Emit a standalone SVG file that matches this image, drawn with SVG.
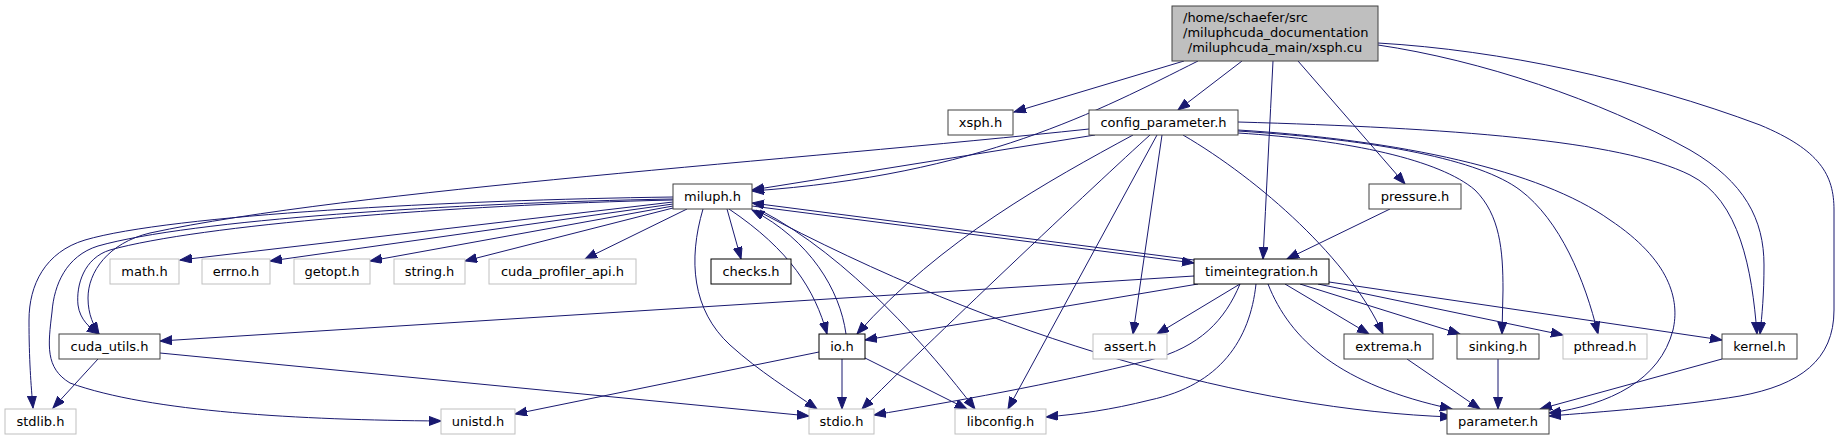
<svg xmlns="http://www.w3.org/2000/svg" width="1840" height="440" viewBox="0 0 1840 440">
<style>
.n rect{fill:#fff;stroke:#404040;stroke-width:1}
.k rect{stroke:#000}
.g rect{stroke:#bfbfbf}
.r rect{fill:#bfbfbf;stroke:#404040}
text{font-family:"DejaVu Sans","Liberation Sans",sans-serif;font-size:13px;fill:#000;text-anchor:middle}
#edges path{fill:none;stroke:#191970;stroke-width:1;marker-end:url(#ah)}
</style>
<defs>
<marker id="ah" markerUnits="userSpaceOnUse" markerWidth="13" markerHeight="10" refX="12" refY="4.5" orient="auto">
<path d="M0,0 L12,4.5 L0,9 z" fill="#191970" stroke="#191970" stroke-width="1"/>
</marker>
</defs>
<rect width="1840" height="440" fill="#fff"/>
<g id="edges">
<path id="root-xsph" d="M1184,61 L1014,112"/>
<path id="root-config" d="M1242,61 L1178,110"/>
<path id="root-miluph" d="M1198,61 C1100,110 980,175 752,191"/>
<path id="root-timeint" d="M1273,61 C1270,120 1266,200 1263,259"/>
<path id="root-pressure" d="M1298,61 L1405,184"/>
<path id="root-kernel" d="M1378,45 C1480,60 1600,100 1690,150 C1745,182 1764,220 1764,265 C1764,295 1762,315 1760,334"/>
<path id="root-parameter" d="M1378,43 C1500,50 1640,80 1760,125 C1820,150 1834,175 1834,210 L1834,310 C1834,360 1800,385 1740,396 C1680,406 1600,412 1549,416"/>
<path id="config-miluph" d="M1095,135 L752,190"/>
<path id="config-cuda_utils" d="M1089,129 C800,160 350,190 150,233 C108,243 88,272 88,298 C88,315 94,326 99,334"/>
<path id="config-io" d="M1133,135 C1050,180 940,240 857,334"/>
<path id="config-stdio" d="M1150,135 C1100,180 920,350 862,409"/>
<path id="config-libconfig" d="M1157,135 L1008,409"/>
<path id="config-assert" d="M1162,135 L1133,334"/>
<path id="config-extrema" d="M1183,135 C1260,180 1350,260 1383,334"/>
<path id="config-sinking" d="M1238,133 C1350,140 1440,160 1475,190 C1500,215 1503,250 1503,290 L1502,334"/>
<path id="config-pthread" d="M1238,131 C1380,140 1480,160 1520,190 C1560,220 1585,280 1598,334"/>
<path id="config-parameter" d="M1238,130 C1400,140 1540,170 1610,220 C1670,260 1680,300 1673,330 C1660,380 1610,405 1549,413"/>
<path id="config-kernel" d="M1238,122 C1450,128 1620,140 1690,175 C1740,200 1752,270 1757,334"/>
<path id="miluph-math" d="M673,202 L180,260"/>
<path id="miluph-errno" d="M673,204 L270,261"/>
<path id="miluph-getopt" d="M673,206 L370,261"/>
<path id="miluph-string" d="M673,208 L465,261"/>
<path id="miluph-cprof" d="M687,209 L585,259"/>
<path id="miluph-checks" d="M727,209 L741,259"/>
<path id="miluph-io" d="M729,209 C790,250 815,290 827,334"/>
<path id="miluph-stdio" d="M703,209 C688,260 692,310 730,345 C760,372 790,390 817,409"/>
<path id="miluph-libconfig" d="M760,210 C850,257 930,350 975,409"/>
<path id="miluph-parameter" d="M756,210 C1000,340 1250,410 1452,417"/>
<path id="miluph-timeint" d="M752,206 L1194,263"/>
<path id="miluph-cuda_utils" d="M673,200 C450,205 200,225 110,250 C84,258 76,285 78,305 C80,320 90,328 99,334"/>
<path id="miluph-stdlib" d="M673,197 C450,200 170,215 85,240 C45,252 29,285 29,320 C29,360 31,385 33,408"/>
<path id="miluph-unistd" d="M673,199 C450,203 190,220 98,246 C66,256 54,285 52,312 C48,345 45,368 70,383 C150,412 300,420 441,421"/>
<path id="io-miluph" d="M846,334 C840,290 810,240 752,210"/>
<path id="io-stdio" d="M842,359 L842,409"/>
<path id="io-libconfig" d="M865,358 L967,409"/>
<path id="io-unistd" d="M819,352 L515,414"/>
<path id="cuda_utils-stdlib" d="M98,359 L53,408"/>
<path id="cuda_utils-stdio" d="M160,353 L809,416"/>
<path id="timeint-miluph" d="M1194,260 L752,203"/>
<path id="timeint-cuda_utils" d="M1194,276 L160,341"/>
<path id="timeint-io" d="M1198,284 L865,340"/>
<path id="timeint-assert" d="M1240,284 L1157,334"/>
<path id="timeint-stdio" d="M1240,284 C1225,320 1200,347 1150,360 C1050,385 950,402 874,415"/>
<path id="timeint-libconfig" d="M1256,284 C1250,340 1220,385 1150,400 C1110,410 1080,414 1046,417"/>
<path id="timeint-parameter" d="M1268,284 C1290,340 1340,385 1452,409"/>
<path id="timeint-extrema" d="M1285,284 L1369,334"/>
<path id="timeint-sinking" d="M1300,284 L1460,334"/>
<path id="timeint-pthread" d="M1318,284 L1563,335"/>
<path id="timeint-kernel" d="M1329,282 L1722,340"/>
<path id="pressure-timeint" d="M1390,209 L1287,259"/>
<path id="extrema-parameter" d="M1407,359 L1480,409"/>
<path id="sinking-parameter" d="M1498,359 L1498,409"/>
<path id="kernel-parameter" d="M1722,359 L1540,409"/>
</g>
<g id="root" class="n r"><rect x="1172" y="6" width="206" height="55"/>
<text x="1183" y="21.5" style="text-anchor:start">/home/schaefer/src</text>
<text x="1183" y="36.5" style="text-anchor:start">/miluphcuda_documentation</text>
<text x="1275" y="51.5">/miluphcuda_main/xsph.cu</text></g>
<g id="xsph" class="n"><rect x="948" y="110" width="65" height="25"/><text x="980.5" y="127">xsph.h</text></g>
<g id="config_parameter" class="n"><rect x="1089" y="110" width="149" height="25"/><text x="1163.5" y="127">config_parameter.h</text></g>
<g id="miluph" class="n"><rect x="673" y="184" width="79" height="25"/><text x="712.5" y="201">miluph.h</text></g>
<g id="pressure" class="n"><rect x="1369" y="184" width="92" height="25"/><text x="1415" y="201">pressure.h</text></g>
<g id="timeintegration" class="n k"><rect x="1194" y="259" width="135" height="25"/><text x="1261.5" y="276">timeintegration.h</text></g>
<g id="math" class="n g"><rect x="110" y="259" width="69" height="25"/><text x="144.5" y="276">math.h</text></g>
<g id="errno" class="n g"><rect x="202" y="259" width="68" height="25"/><text x="236" y="276">errno.h</text></g>
<g id="getopt" class="n g"><rect x="294" y="259" width="76" height="25"/><text x="332" y="276">getopt.h</text></g>
<g id="string" class="n g"><rect x="394" y="259" width="71" height="25"/><text x="429.5" y="276">string.h</text></g>
<g id="cuda_profiler_api" class="n g"><rect x="489" y="259" width="147" height="25"/><text x="562.5" y="276">cuda_profiler_api.h</text></g>
<g id="checks" class="n k"><rect x="711" y="259" width="80" height="25"/><text x="751" y="276">checks.h</text></g>
<g id="cuda_utils" class="n"><rect x="59" y="334" width="101" height="25"/><text x="109.5" y="351">cuda_utils.h</text></g>
<g id="io" class="n k"><rect x="819" y="334" width="46" height="25"/><text x="842" y="351">io.h</text></g>
<g id="assert" class="n g"><rect x="1093" y="334" width="74" height="25"/><text x="1130" y="351">assert.h</text></g>
<g id="extrema" class="n"><rect x="1344" y="334" width="89" height="25"/><text x="1388.5" y="351">extrema.h</text></g>
<g id="sinking" class="n"><rect x="1457" y="334" width="82" height="25"/><text x="1498" y="351">sinking.h</text></g>
<g id="pthread" class="n g"><rect x="1563" y="334" width="84" height="25"/><text x="1605" y="351">pthread.h</text></g>
<g id="kernel" class="n"><rect x="1722" y="334" width="75" height="25"/><text x="1759.5" y="351">kernel.h</text></g>
<g id="stdlib" class="n g"><rect x="5" y="409" width="71" height="25"/><text x="40.5" y="426">stdlib.h</text></g>
<g id="unistd" class="n g"><rect x="441" y="409" width="74" height="25"/><text x="478" y="426">unistd.h</text></g>
<g id="stdio" class="n g"><rect x="809" y="409" width="65" height="25"/><text x="841.5" y="426">stdio.h</text></g>
<g id="libconfig" class="n g"><rect x="955" y="409" width="91" height="25"/><text x="1000.5" y="426">libconfig.h</text></g>
<g id="parameter" class="n"><rect x="1447" y="409" width="102" height="25"/><text x="1498" y="426">parameter.h</text></g>
</svg>
